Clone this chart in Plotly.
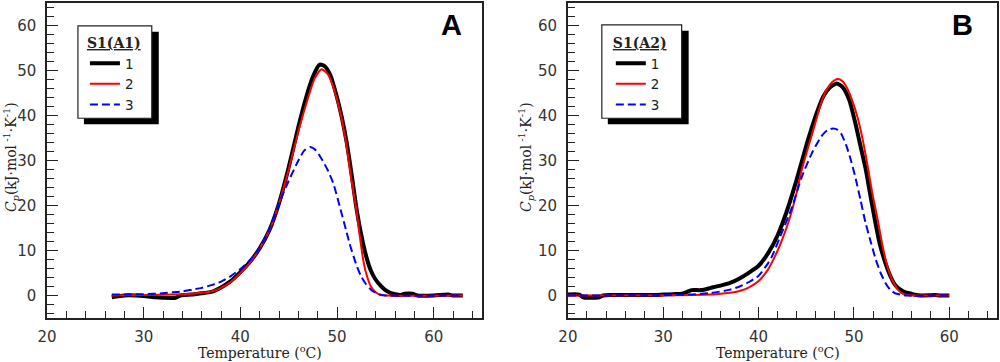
import plotly.graph_objects as go

# ---------------- data ----------------
# Panel A : S1(A1)
a1_t = [26.7, 28, 30, 31.2, 32, 33.3, 33.8, 35, 36, 37, 38, 39, 40, 41, 42, 43, 44, 45, 46, 46.8, 47.5,
        48.2, 48.7, 49.3, 50, 50.5, 51, 51.5, 52, 52.5, 53, 53.5, 54, 54.5, 55, 55.5, 56, 56.5, 57, 57.8,
        58.3, 60, 61.5, 62, 63]
a1_cp = [-0.4, 0.0, -0.1, -0.4, -0.5, -0.5, 0.0, 0.2, 0.5, 0.8, 1.8, 3.2, 5.2, 7.5, 10.5, 14.5, 20.5, 28.5,
         37.5, 44.0, 48.6, 51.3, 51.0, 49.0, 44.0, 39.5, 34.0, 27.0, 19.5, 13.5, 8.8, 5.5, 3.5, 2.2, 1.2,
         0.6, 0.3, 0.1, 0.4, 0.4, 0.0, 0.0, 0.2, 0.0, 0.0]

a2_t = [26.7, 30, 33, 35, 36, 37, 38, 39, 40, 41, 42, 43, 44, 45, 46, 46.8, 47.7, 48.4, 49, 49.5, 50,
        50.5, 51, 51.5, 52, 52.3, 52.7, 53, 53.5, 54, 54.5, 55, 63]
a2_cp = [0.0, 0.1, 0.2, 0.4, 0.6, 0.9, 1.7, 3.0, 5.0, 7.3, 10.5, 14.5, 20.5, 28.0, 36.5, 42.5, 48.3, 50.3,
         49.3, 47.0, 43.5, 39.0, 33.0, 25.5, 19.0, 14.0, 8.0, 5.0, 2.0, 0.7, 0.1, 0.0, 0.0]

a3_t = [26.7, 28, 30, 32, 33, 34, 35, 36, 37, 38, 39, 40, 41, 42, 43, 44, 45, 46, 46.6, 47.2, 47.8, 48.5,
        49, 49.6, 50.3, 51, 51.3, 52, 52.5, 53, 53.5, 54, 54.5, 55, 63]
a3_cp = [0.2, 0.2, 0.3, 0.5, 0.7, 0.9, 1.3, 1.7, 2.3, 3.1, 4.3, 5.9, 7.9, 10.6, 14.8, 20.5, 25.5, 30.0,
         32.2, 33.0, 32.3, 30.0, 28.0, 25.0, 19.6, 14.0, 11.5, 6.8, 4.2, 2.5, 1.3, 0.6, 0.2, 0.0, 0.0]

# Panel B : S1(A2)
b1_t = [20, 21.2, 21.6, 23.3, 23.7, 24.5, 29, 30, 31, 32, 32.6, 33, 34, 35, 36, 37, 38, 39, 40, 41, 42,
        43, 44, 45, 46, 46.8, 47.5, 48.2, 48.8, 49.5, 50.1, 50.6, 51.2, 51.7, 52.2, 52.7, 53.3, 53.8,
        54.3, 54.8, 55.4, 56, 56.4, 57, 58.5, 59, 60]
b1_cp = [0.2, 0.2, -0.4, -0.4, 0.0, 0.1, 0.1, 0.2, 0.3, 0.4, 0.9, 1.2, 1.2, 1.7, 2.2, 2.8, 3.8, 5.1, 6.6,
         9.4, 13.4, 19.0, 25.8, 33.3, 40.0, 44.3, 46.3, 47.1, 46.3, 43.5, 38.7, 34.0, 28.4, 22.5, 16.7,
         11.5, 7.2, 4.4, 2.4, 1.4, 0.7, 0.4, 0.15, 0.0, 0.1, 0.0, 0.0]

b2_t = [20, 30, 33, 35, 36, 37, 38, 39, 40, 41, 41.5, 42, 42.5, 43, 43.5, 44, 44.5, 45, 45.6, 46.1, 46.6,
        47.2, 47.7, 48.3, 48.8, 49.3, 49.8, 50.4, 50.9, 51.4, 51.9, 52.5, 53, 53.5, 54, 54.6, 55.1, 55.7,
        56.5, 60]
b2_cp = [0.0, 0.05, 0.1, 0.2, 0.4, 0.6, 1.0, 1.8, 3.2, 5.8, 7.8, 10.0, 12.6, 15.5, 18.9, 23.0, 27.7, 31.5,
         35.8, 39.5, 43.1, 46.0, 47.4, 48.1, 47.6, 46.0, 43.4, 39.4, 34.8, 29.2, 23.0, 16.7, 11.0, 6.5,
         3.5, 1.3, 0.4, 0.1, 0.0, 0.0]

b3_t = [20, 30, 33, 35, 37, 38, 39, 40, 41, 41.4, 42.4, 43.5, 44.5, 45.6, 46.6, 47.2, 47.8, 48.3, 48.7,
        49.2, 49.7, 50.2, 50.7, 51.2, 51.8, 52.3, 52.8, 53.3, 53.8, 54.3, 54.9, 55.5, 60]
b3_cp = [0.0, 0.1, 0.25, 0.55, 1.3, 2.0, 3.0, 4.4, 7.2, 8.7, 13.8, 19.6, 26.2, 31.7, 35.4, 36.7, 37.1,
         36.8, 35.8, 33.3, 29.9, 25.8, 21.1, 16.3, 11.6, 7.9, 5.0, 2.8, 1.3, 0.5, 0.2, 0.0, 0.0]

series_names = ["1", "2", "3"]
legend_titles = ["S1(A1)", "S1(A2)"]
panel_labels = ["A", "B"]
x_title = "Temperature (<sup>o</sup>C)"
y_title = "<i>C</i><sub><i>p</i></sub>(kJ·mol<sup> -1</sup>·K<sup>-1</sup>)"

# ---------------- figure ----------------
W, H = 1000, 362
ML, MR, MT, MB = 47, 1, 1, 44
PW, PH = W - ML - MR, H - MT - MB


def px(xp):
    return (xp - ML) / PW


def py(yp):
    return 1 - (yp - MT) / PH


styles = [dict(color="black", width=4),
          dict(color="#ff0000", width=2),
          dict(color="#0000ff", width=2, dash="8px,4px")]

fig = go.Figure()
panels = [
    ([(a1_t, a1_cp), (a2_t, a2_cp), (a3_t, a3_cp)], "x", "y", "legend"),
    ([(b1_t, b1_cp), (b2_t, b2_cp), (b3_t, b3_cp)], "x2", "y2", "legend2"),
]
for data, xa, ya, lg in panels:
    for (t, cp), name, st in zip(data, series_names, styles):
        fig.add_trace(go.Scatter(x=t, y=cp, mode="lines", name=name, line=dict(shape="spline", smoothing=0.6, **st),
                                 xaxis=xa, yaxis=ya, legend=lg, showlegend=True))

axis_common = dict(
    showline=True, linecolor="#222", linewidth=1.5, mirror=True,
    ticks="inside", ticklen=11, tickwidth=1.2, tickcolor="#222",
    showgrid=False, zeroline=False,
    tickfont=dict(family="DejaVu Sans", size=15, color="#333"),
)
xa_common = dict(axis_common, range=[20, 65], dtick=10, tick0=20, ticklabelstandoff=4,
                 minor=dict(dtick=2, ticks="inside", ticklen=7, tickcolor="#222", tickwidth=1.2))
ya_common = dict(axis_common, range=[-5, 65], dtick=10, tick0=0, ticklabelstandoff=6,
                 minor=dict(dtick=2, ticks="inside", ticklen=7, tickcolor="#222", tickwidth=1.2))

left_dom = [0, px(483)]
right_dom = [px(569), 1]

fig.update_layout(
    width=W, height=H, margin=dict(l=ML, r=MR, t=MT, b=MB),
    paper_bgcolor="white", plot_bgcolor="white",
    xaxis=dict(xa_common, domain=left_dom, anchor="y"),
    yaxis=dict(ya_common, domain=[0, 1], anchor="x"),
    xaxis2=dict(xa_common, domain=right_dom, anchor="y2"),
    yaxis2=dict(ya_common, domain=[0, 1], anchor="x2"),
)

leg_common = dict(bgcolor="rgba(0,0,0,0)", borderwidth=0, xanchor="left", yanchor="top",
                  font=dict(family="DejaVu Sans", size=13.5, color="#222"), tracegroupgap=0,
                  itemwidth=30)
fig.update_layout(
    legend=dict(leg_common, x=px(85), y=py(28),
                title=dict(text="<b><u>" + legend_titles[0] + "</u></b>",
                           font=dict(family="DejaVu Serif", size=14, color="#222"))),
    legend2=dict(leg_common, x=px(612), y=py(28),
                 title=dict(text="<b><u>" + legend_titles[1] + "</u></b>",
                            font=dict(family="DejaVu Serif", size=14, color="#222"))),
)

# legend frames with drop shadow
shapes = []
for (x0, y0, x1, y1) in [(78, 24, 152, 117), (603, 23, 683, 117)]:
    shapes.append(dict(type="rect", xref="paper", yref="paper", x0=px(x0 + 6), x1=px(x1 + 7),
                       y0=py(y1 + 6), y1=py(y0 + 6), fillcolor="black", line=dict(width=0), layer="above"))
    shapes.append(dict(type="rect", xref="paper", yref="paper", x0=px(x0), x1=px(x1),
                       y0=py(y1), y1=py(y0), fillcolor="white", line=dict(color="#222", width=1.2),
                       layer="above"))
fig.update_layout(shapes=shapes)

ann = []
for xd, lab, ytx, lbx in [("x domain", panel_labels[0], 11, 452), ("x2 domain", panel_labels[1], 527, 964)]:
    ann.append(dict(text=x_title, xref=xd, yref="paper", x=0.49, y=py(352), xanchor="center", yanchor="middle",
                    showarrow=False, font=dict(family="DejaVu Serif", size=14, color="#222")))
    ann.append(dict(text=y_title, xref="paper", yref="paper", x=px(ytx), y=py(156), textangle=-90,
                    xanchor="center", yanchor="middle", showarrow=False,
                    font=dict(family="DejaVu Serif", size=14, color="#222")))
    ann.append(dict(text="<b>" + lab + "</b>", xref="paper", yref="paper", x=px(lbx), y=py(23),
                    xanchor="center", yanchor="middle", showarrow=False,
                    font=dict(family="Liberation Sans", size=29, color="black")))
fig.update_layout(annotations=ann)

fig.write_html("out.html", config={"displayModeBar": False},
               post_script="document.body.style.margin='0';document.body.style.overflow='hidden';")
